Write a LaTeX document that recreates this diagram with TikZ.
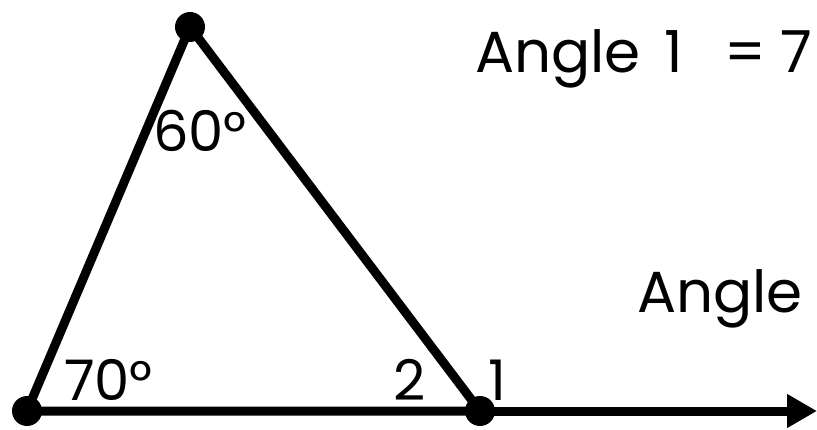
\documentclass[tikz,border=0pt]{standalone}
\usepackage{fontspec}
\setmainfont{Poppins}
\usetikzlibrary{arrows.meta}
\begin{document}
\begin{tikzpicture}[x=1pt,y=-1pt,
  edge/.style={line width=9pt},
  vtx/.style={circle,fill=black,inner sep=0pt,minimum size=30pt},
  lbl/.style={font=\fontsize{56}{60}\selectfont,inner sep=0pt,anchor=base west},
  big/.style={font=\fontsize{58}{62}\selectfont,inner sep=0pt,anchor=base west}]
\useasboundingbox (0,0) rectangle (817,430);
\coordinate (A) at (190,27);
\coordinate (B) at (27,411);
\coordinate (C) at (480,411);
\coordinate (E) at (817,411);
\draw[edge,line join=round] (A) -- (B) -- (C) -- cycle;
\draw[edge,-{Triangle[length=30pt,width=32pt]}] (C) -- (E);
\node[vtx] (a) at (A) {};
\node[vtx] (b) at (B) {};
\node[vtx] (c) at (C) {};
\node[lbl] (l60) at (153,152) {60°};
\node[lbl] (l70) at (64,400) {70°};
\node[lbl] (l2) at (393,400) {2};
\node[lbl] (l1) at (488,400) {1};
\node[big] (t1) at (475,73) {Angle};
\node[big] (t1n) at (664,73) {1};
\node[big] (t1e) at (724,73) {=};
\node[big] (t1s) at (780,73) {7};
\node[big] (t2) at (637,313) {Angle};
\end{tikzpicture}
\end{document}
